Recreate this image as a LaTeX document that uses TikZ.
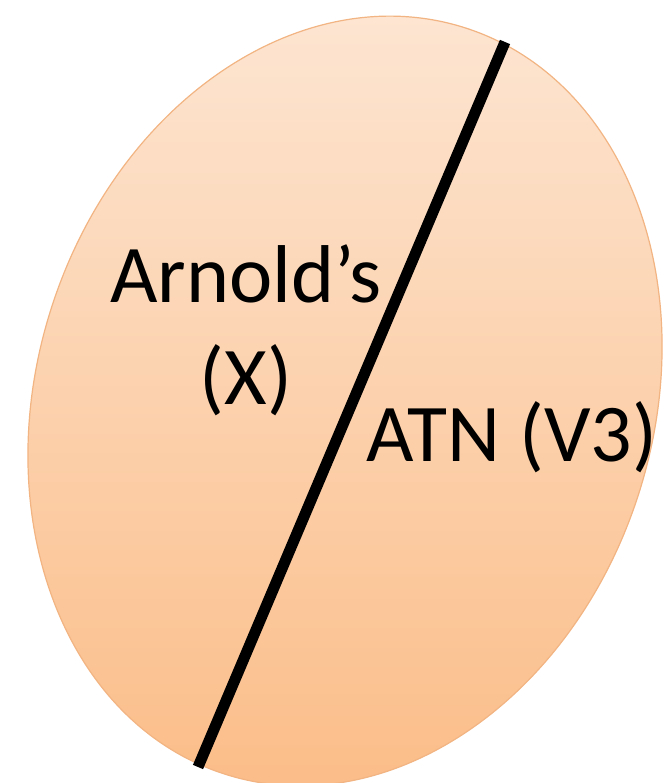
\documentclass[tikz,border=0pt]{standalone}
\usepackage{fontspec}
\setmainfont{Carlito}
\usepackage{tikz}
\usetikzlibrary{shapes.geometric}
\definecolor{peachtop}{RGB}{253,231,213}
\definecolor{peachbot}{RGB}{251,190,138}
\definecolor{peachrim}{RGB}{242,180,130}
\tikzset{
  disc/.style  ={ellipse, draw=peachrim, line width=1.2pt, top color=peachtop,
                 bottom color=peachbot, minimum width=616pt, minimum height=784pt,
                 inner sep=0pt, outer sep=0pt},
  label/.style ={font=\fontsize{82}{102}\selectfont, align=center, inner sep=0pt},
  divide/.style={line width=11pt, black},
}
\begin{document}
\begin{tikzpicture}[x=1pt, y=1pt]
    \useasboundingbox (0,0) rectangle (669,783);
    \node[disc, rotate=-18] (pupil) at (345,382) {};

    \coordinate (cuttop) at (505,741);
    \coordinate (cutbot) at (198,16);
    \draw[divide] (cuttop) -- (cutbot);

    % base anchor sits on the last line
    \node[label, anchor=base] (arnold) at (246,378) {Arnold’s\\(X)};
    \node[label, anchor=base] (atn) at (512,321) {ATN (V3)};
\end{tikzpicture}
\end{document}
